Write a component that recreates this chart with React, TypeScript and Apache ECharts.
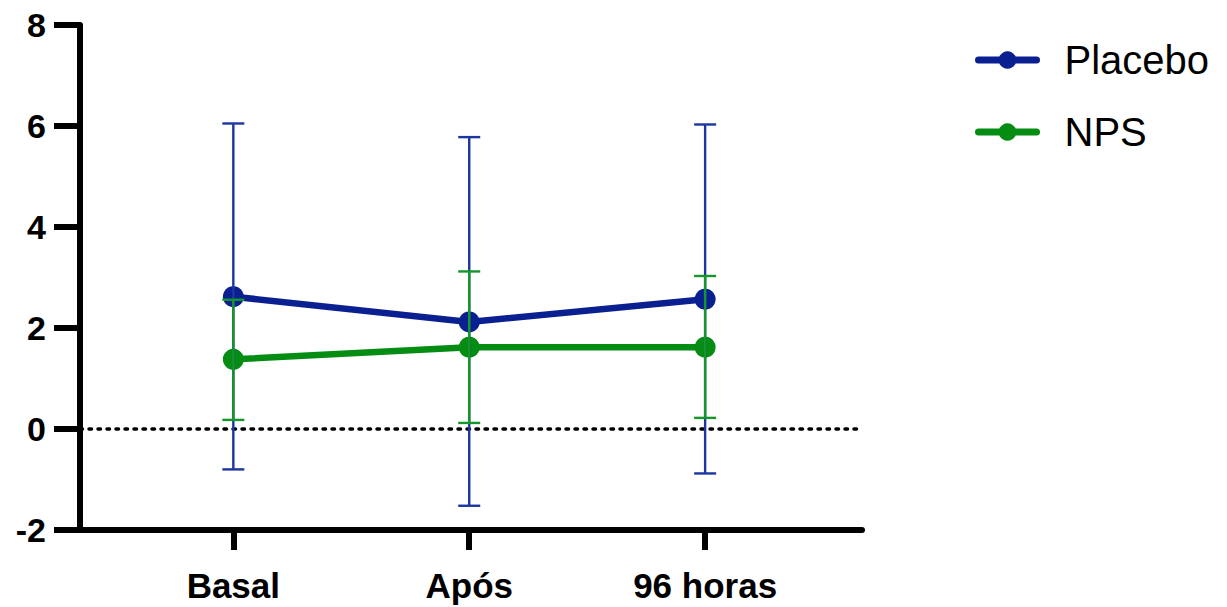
import React, { useEffect, useRef } from "react";
import * as echarts from "echarts";

const categories = ["Basal", "Após", "96 horas"];
const placeboMean = [2.62, 2.12, 2.57];
const placeboUpper = [6.05, 5.78, 6.03];
const placeboLower = [-0.8, -1.52, -0.88];
const npsMean = [1.38, 1.62, 1.62];
const npsUpper = [2.56, 3.12, 3.03];
const npsLower = [0.18, 0.12, 0.22];
const yTicks = [-2, 0, 2, 4, 6, 8];

const BLUE = "#0b2090";
const BLUE_ERR = "#1c35a0";
const GREEN = "#058c12";
const GREEN_ERR = "#15962a";

function errorSeries(name: string, upper: number[], lower: number[], color: string) {
  const data = categories.map((_, i) => [i, lower[i], upper[i]]);
  return {
    type: "custom",
    name: name + "-err",
    z: 5,
    silent: true,
    data,
    encode: { x: 0, y: [1, 2] },
    renderItem: (params: any, api: any) => {
      const x = api.value(0);
      const lo = api.coord([x, api.value(1)]);
      const hi = api.coord([x, api.value(2)]);
      const half = 11;
      const style = { stroke: color, lineWidth: 2.4, fill: "none" };
      return {
        type: "group",
        children: [
          { type: "line", shape: { x1: lo[0], y1: lo[1], x2: hi[0], y2: hi[1] }, style },
          { type: "line", shape: { x1: hi[0] - half, y1: hi[1], x2: hi[0] + half, y2: hi[1] }, style },
          { type: "line", shape: { x1: lo[0] - half, y1: lo[1], x2: lo[0] + half, y2: lo[1] }, style },
        ],
      };
    },
  };
}

export default function App() {
  const ref = useRef<HTMLDivElement>(null);
  useEffect(() => {
    if (!ref.current) return;
    const chart = echarts.init(ref.current, undefined, { renderer: "svg" });
    const font = "'Liberation Sans', Arial, Helvetica, sans-serif";
    chart.setOption({
      animation: false,
      backgroundColor: "#ffffff",
      grid: { left: 80, right: 365, top: 25, bottom: 77, containLabel: false },
      legend: {
        orient: "vertical",
        left: 970,
        top: 35,
        itemWidth: 58,
        itemHeight: 22,
        itemGap: 32,
        data: ["Placebo", "NPS"],
        lineStyle: { width: 7, cap: "round" },
        textStyle: { fontFamily: font, fontSize: 40, color: "#000", padding: [0, 0, 0, 23] },
      },
      xAxis: {
        type: "value",
        min: -0.65,
        max: 2.665,
        splitLine: { show: false },
        axisLine: { show: true, onZero: false, lineStyle: { color: "#000", width: 6 } },
        axisTick: { show: true, length: 20, customValues: [0, 1, 2], lineStyle: { color: "#000", width: 6 } },
        axisLabel: {
          customValues: [0, 1, 2],
          formatter: (v: number) => categories[Math.round(v)] ?? "",
          fontFamily: font,
          fontWeight: "bold",
          fontSize: 35,
          color: "#000",
          margin: 38,
        },
      },
      yAxis: {
        type: "value",
        min: -2,
        max: 8,
        interval: 2,
        splitLine: { show: false },
        axisLine: { show: true, onZero: false, lineStyle: { color: "#000", width: 6 } },
        axisTick: { show: true, length: 26, lineStyle: { color: "#000", width: 6 } },
        axisLabel: {
          formatter: (v: number) => (yTicks.includes(v) ? String(v) : ""),
          fontFamily: font,
          fontWeight: "bold",
          fontSize: 34,
          color: "#000",
          margin: 34,
        },
      },
      series: [
        {
          type: "line",
          name: "Placebo",
          data: categories.map((_, i) => [i, placeboMean[i]]),
          symbol: "circle",
          symbolSize: 21,
          z: 3,
          lineStyle: { color: BLUE, width: 6.5 },
          itemStyle: { color: BLUE },
          markLine: {
            silent: true,
            symbol: "none",
            label: { show: false },
            lineStyle: { color: "#000", width: 3.5, type: [2.5, 6.5], cap: "round" },
            data: [{ yAxis: 0 }],
          },
        },
        {
          type: "line",
          name: "NPS",
          data: categories.map((_, i) => [i, npsMean[i]]),
          symbol: "circle",
          symbolSize: 21,
          z: 3,
          lineStyle: { color: GREEN, width: 6.5 },
          itemStyle: { color: GREEN },
        },
        errorSeries("Placebo", placeboUpper, placeboLower, BLUE_ERR),
        errorSeries("NPS", npsUpper, npsLower, GREEN_ERR),
      ],
    });
    return () => chart.dispose();
  }, []);
  return <div ref={ref} style={{ width: 1227, height: 607, position: "absolute", left: 0, top: 0 }} />;
}
